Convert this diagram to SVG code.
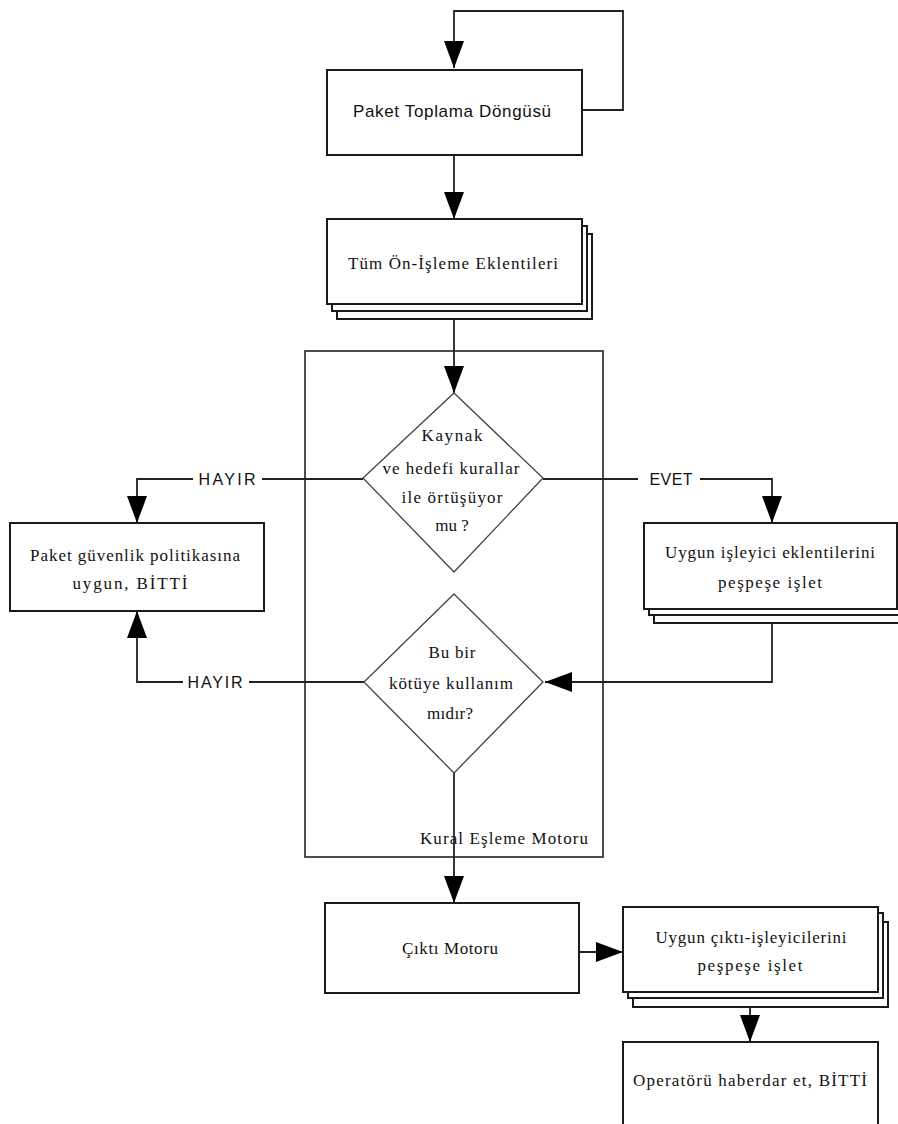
<svg xmlns="http://www.w3.org/2000/svg" width="898" height="1124" viewBox="0 0 898 1124">
<style>
.box{fill:#fff;stroke:#1a1a1a;stroke-width:2}
.dia{fill:#fff;stroke:#444;stroke-width:1.3}
.cont{fill:none;stroke:#222;stroke-width:1.6}
.ln{fill:none;stroke:#222;stroke-width:1.8}
.sf{font-family:"Liberation Serif","Times New Roman",serif;font-size:17px;fill:#111;text-anchor:middle}
.ss{font-family:"Liberation Sans",Arial,sans-serif;font-size:17px;fill:#111;text-anchor:middle}
.lb{font-family:"Liberation Sans",Arial,sans-serif;font-size:16px;fill:#111;text-anchor:middle}
</style>
<defs>
<marker id="ah" viewBox="0 0 27 20" refX="27" refY="10" markerWidth="27" markerHeight="20" orient="auto" markerUnits="userSpaceOnUse">
<path d="M0,0 L27,10 L0,20 Z" fill="#000"/>
</marker>
</defs>
<g id="container">
<rect class="cont" x="305" y="351" width="298" height="506"/>
<text class="sf" x="504" y="844" textLength="168" lengthAdjust="spacing">Kural Eşleme Motoru</text>
</g>
<g id="connectors">
<path class="ln" d="M582,110 H623 V11 H454 V68" marker-end="url(#ah)"/>
<path class="ln" d="M454,155 V219" marker-end="url(#ah)"/>
<path class="ln" d="M454,319 V393" marker-end="url(#ah)"/>
<path class="ln" d="M363,479 H137 V523" marker-end="url(#ah)"/>
<path class="ln" d="M543,479 H772 V523" marker-end="url(#ah)"/>
<path class="ln" d="M772,622 V682 H545" marker-end="url(#ah)"/>
<path class="ln" d="M364,682 H137 V611" marker-end="url(#ah)"/>
<path class="ln" d="M454,773 V903" marker-end="url(#ah)"/>
<path class="ln" d="M579,952 H623" marker-end="url(#ah)"/>
<path class="ln" d="M750,1007 V1042" marker-end="url(#ah)"/>
<rect x="193" y="469" width="69" height="20" fill="#fff"/>
<text class="lb" x="227" y="485" textLength="57" lengthAdjust="spacing">HAYIR</text>
<rect x="183" y="672" width="66" height="20" fill="#fff"/>
<text class="lb" x="215" y="688" textLength="55" lengthAdjust="spacing">HAYIR</text>
<rect x="638" y="469" width="62" height="20" fill="#fff"/>
<text class="lb" x="671" y="485" textLength="43" lengthAdjust="spacing">EVET</text>
</g>
<g id="n1">
<rect class="box" x="327" y="70" width="255" height="85"/>
<text class="ss" x="452" y="117" textLength="198" lengthAdjust="spacing">Paket Toplama Döngüsü</text>
</g>
<g id="n2">
<rect class="box" x="337" y="234" width="255" height="85"/>
<rect class="box" x="332" y="226" width="255" height="85"/>
<rect class="box" x="327" y="219" width="255" height="85"/>
<text class="sf" x="453" y="269" textLength="210" lengthAdjust="spacing">Tüm Ön-İşleme Eklentileri</text>
</g>
<g id="d1">
<polygon class="dia" points="454,393 543,478 454,572 363,478"/>
<text class="sf" x="452" y="441" textLength="61" lengthAdjust="spacing">Kaynak</text>
<text class="sf" x="451" y="474" textLength="137" lengthAdjust="spacing">ve hedefi kurallar</text>
<text class="sf" x="452" y="503" textLength="101" lengthAdjust="spacing">ile örtüşüyor</text>
<text class="sf" x="452" y="531">mu ?</text>
</g>
<g id="n3">
<rect class="box" x="10" y="523" width="254" height="88"/>
<text class="sf" x="135" y="561" textLength="210" lengthAdjust="spacing">Paket güvenlik politikasına</text>
<text class="sf" x="130" y="589" textLength="115" lengthAdjust="spacing">uygun, BİTTİ</text>
</g>
<g id="n4">
<rect class="box" x="654" y="538" width="255" height="85"/>
<rect class="box" x="649" y="530" width="255" height="85"/>
<rect class="box" x="644" y="523" width="253" height="86"/>
<text class="sf" x="770" y="558" textLength="210" lengthAdjust="spacing">Uygun işleyici eklentilerini</text>
<text class="sf" x="770" y="588" textLength="104" lengthAdjust="spacing">peşpeşe işlet</text>
</g>
<g id="d2">
<polygon class="dia" points="454,594 543,682 454,773 364,682"/>
<text class="sf" x="452" y="658" textLength="47" lengthAdjust="spacing">Bu bir</text>
<text class="sf" x="451" y="689" textLength="124" lengthAdjust="spacing">kötüye kullanım</text>
<text class="sf" x="450" y="719" textLength="46" lengthAdjust="spacing">mıdır?</text>
</g>
<g id="n5">
<rect class="box" x="325" y="903" width="254" height="90"/>
<text class="sf" x="450" y="954" textLength="96" lengthAdjust="spacing">Çıktı Motoru</text>
</g>
<g id="n6">
<rect class="box" x="633" y="922" width="255" height="85"/>
<rect class="box" x="628" y="913" width="255" height="85"/>
<rect class="box" x="623" y="907" width="255" height="85"/>
<text class="sf" x="751" y="943" textLength="191" lengthAdjust="spacing">Uygun çıktı-işleyicilerini</text>
<text class="sf" x="750" y="971" textLength="105" lengthAdjust="spacing">peşpeşe işlet</text>
</g>
<g id="n7">
<rect class="box" x="623" y="1042" width="255" height="100"/>
<text class="sf" x="750" y="1086" textLength="234" lengthAdjust="spacing">Operatörü haberdar et, BİTTİ</text>
</g>
</svg>
